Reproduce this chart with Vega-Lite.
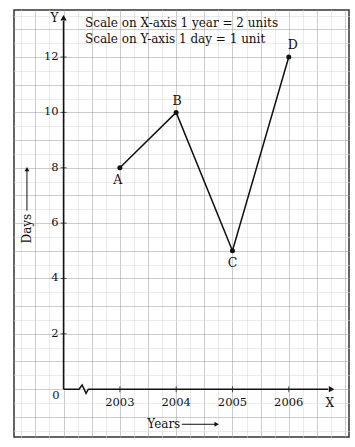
{
  "$schema": "https://vega.github.io/schema/vega-lite/v6.json",
  "autosize": {"type": "none"},
  "padding": {"left": 14, "top": 10, "right": 6, "bottom": 10},
  "width": 335,
  "height": 427,
  "background": "white",
  "config": {
    "view": {"stroke": "#333", "strokeWidth": 1.5},
    "text": {"font": "DejaVu Serif", "fontSize": 11.5, "color": "#111"}
  },
  "datasets": {
    "pts": [
      {"x": 2003, "y": 8, "label": "A"},
      {"x": 2004, "y": 10, "label": "B"},
      {"x": 2005, "y": 5, "label": "C"},
      {"x": 2006, "y": 12, "label": "D"}
    ],
    "xaxis": [
      {"x": 2002, "y": 0, "o": 1},
      {"x": 2002.275, "y": 0, "o": 2},
      {"x": 2002.33, "y": 0.15, "o": 3},
      {"x": 2002.40, "y": -0.15, "o": 4},
      {"x": 2002.44, "y": 0, "o": 5},
      {"x": 2006.7, "y": 0, "o": 6}
    ],
    "ylabels": [
      {"x": 2002, "y": 2, "t": "2"},
      {"x": 2002, "y": 4, "t": "4"},
      {"x": 2002, "y": 6, "t": "6"},
      {"x": 2002, "y": 8, "t": "8"},
      {"x": 2002, "y": 10, "t": "10"},
      {"x": 2002, "y": 12, "t": "12"}
    ],
    "xlabels": [
      {"x": 2003, "y": 0, "t": "2003"},
      {"x": 2004, "y": 0, "t": "2004"},
      {"x": 2005, "y": 0, "t": "2005"},
      {"x": 2006, "y": 0, "t": "2006"}
    ]
  },
  "encoding": {
    "x": {
      "field": "x", "type": "quantitative",
      "scale": {"domain": [2001.12, 2007.07], "nice": false, "zero": false},
      "axis": {
        "title": null, "labels": false, "ticks": false, "domain": false, "grid": true,
        "values": [2001.25, 2001.5, 2001.75, 2002, 2002.25, 2002.5, 2002.75, 2003, 2003.25, 2003.5, 2003.75, 2004, 2004.25, 2004.5, 2004.75, 2005, 2005.25, 2005.5, 2005.75, 2006, 2006.25, 2006.5, 2006.75, 2007],
        "gridDash": [1, 1],
        "gridColor": {"condition": {"test": "abs(datum.value*2 - round(datum.value*2)) < 0.01", "value": "#999999"}, "value": "#d6d6d6"},
        "gridWidth": 1
      }
    },
    "y": {
      "field": "y", "type": "quantitative",
      "scale": {"domain": [-1.73, 13.7], "nice": false, "zero": false},
      "axis": {
        "title": null, "labels": false, "ticks": false, "domain": false, "grid": true,
        "values": [-1.5, -1, -0.5, 0, 0.5, 1, 1.5, 2, 2.5, 3, 3.5, 4, 4.5, 5, 5.5, 6, 6.5, 7, 7.5, 8, 8.5, 9, 9.5, 10, 10.5, 11, 11.5, 12, 12.5, 13, 13.5],
        "gridDash": [1, 1],
        "gridColor": {"condition": {"test": "abs(datum.value - round(datum.value)) < 0.01", "value": "#999999"}, "value": "#d6d6d6"},
        "gridWidth": 1
      }
    }
  },
  "layer": [
    {
      "data": {"values": [{"x": 2002, "y": 0, "y2": 13.3}]},
      "mark": {"type": "rule", "color": "#111", "strokeWidth": 1.5},
      "encoding": {"y2": {"field": "y2"}}
    },
    {
      "data": {"values": [{"x": 2002, "y": 13.42}]},
      "mark": {"type": "point", "shape": "triangle-up", "filled": true, "color": "#111", "size": 40, "opacity": 1}
    },
    {
      "data": {"name": "xaxis"},
      "mark": {"type": "line", "color": "#111", "strokeWidth": 1.5},
      "encoding": {"order": {"field": "o"}}
    },
    {
      "data": {"values": [{"x": 2006.76, "y": 0}]},
      "mark": {"type": "point", "shape": "triangle-right", "filled": true, "color": "#111", "size": 40, "opacity": 1}
    },
    {
      "data": {"name": "ylabels"},
      "mark": {"type": "tick", "orient": "horizontal", "size": 6, "color": "#111", "thickness": 1}
    },
    {
      "data": {"name": "xlabels"},
      "mark": {"type": "tick", "orient": "vertical", "size": 6, "color": "#111", "thickness": 1}
    },
    {
      "data": {"name": "ylabels"},
      "mark": {"type": "text", "align": "right", "baseline": "middle", "dx": -5},
      "encoding": {"text": {"field": "t"}}
    },
    {
      "data": {"name": "xlabels"},
      "mark": {"type": "text", "align": "center", "baseline": "middle", "dy": 14},
      "encoding": {"text": {"field": "t"}}
    },
    {
      "data": {"values": [{"x": 2002, "y": 0, "t": "0"}]},
      "mark": {"type": "text", "align": "right", "baseline": "middle", "dx": -4, "dy": 7},
      "encoding": {"text": {"field": "t"}}
    },
    {
      "data": {"values": [{"x": 2002, "y": 13.42, "t": "Y"}]},
      "mark": {"type": "text", "align": "right", "baseline": "middle", "dx": -5, "dy": 0, "fontSize": 12},
      "encoding": {"text": {"field": "t"}}
    },
    {
      "data": {"values": [{"x": 2006.73, "y": 0, "t": "X"}]},
      "mark": {"type": "text", "align": "center", "baseline": "middle", "dy": 14, "fontSize": 12},
      "encoding": {"text": {"field": "t"}}
    },
    {
      "data": {"name": "pts"},
      "mark": {"type": "line", "color": "#111", "strokeWidth": 1.5}
    },
    {
      "data": {"name": "pts"},
      "mark": {"type": "point", "filled": true, "color": "#111", "size": 25, "opacity": 1}
    },
    {
      "data": {"name": "pts"},
      "transform": [{"filter": "datum.label == 'A'"}],
      "mark": {"type": "text", "align": "center", "baseline": "middle", "dx": -2, "dy": 12, "fontSize": 12.5},
      "encoding": {"text": {"field": "label"}}
    },
    {
      "data": {"name": "pts"},
      "transform": [{"filter": "datum.label == 'B'"}],
      "mark": {"type": "text", "align": "center", "baseline": "middle", "dx": 1, "dy": -11, "fontSize": 12.5},
      "encoding": {"text": {"field": "label"}}
    },
    {
      "data": {"name": "pts"},
      "transform": [{"filter": "datum.label == 'C'"}],
      "mark": {"type": "text", "align": "center", "baseline": "middle", "dx": 0, "dy": 12, "fontSize": 12.5},
      "encoding": {"text": {"field": "label"}}
    },
    {
      "data": {"name": "pts"},
      "transform": [{"filter": "datum.label == 'D'"}],
      "mark": {"type": "text", "align": "center", "baseline": "middle", "dx": 4, "dy": -12, "fontSize": 12.5},
      "encoding": {"text": {"field": "label"}}
    },
    {
      "data": {"values": [
        {"x": 2002.38, "y": 13.23, "t": "Scale on X-axis 1 year = 2 units"},
        {"x": 2002.38, "y": 12.65, "t": "Scale on Y-axis 1 day = 1 unit"}
      ]},
      "mark": {"type": "text", "align": "left", "baseline": "middle", "fontSize": 12},
      "encoding": {"text": {"field": "t"}}
    },
    {
      "data": {"values": [{"x": 2003.78, "y": -1.27, "t": "Years"}]},
      "mark": {"type": "text", "align": "center", "baseline": "middle", "fontSize": 12},
      "encoding": {"text": {"field": "t"}}
    },
    {
      "data": {"values": [{"x": 2004.1, "x2": 2004.7, "y": -1.27}]},
      "mark": {"type": "rule", "color": "#111", "strokeWidth": 1},
      "encoding": {"x2": {"field": "x2"}}
    },
    {
      "data": {"values": [{"x": 2004.72, "y": -1.27}]},
      "mark": {"type": "point", "shape": "triangle-right", "filled": true, "color": "#111", "size": 25, "opacity": 1}
    },
    {
      "data": {"values": [{"x": 2001.35, "y": 5.8, "t": "Days"}]},
      "mark": {"type": "text", "align": "center", "baseline": "middle", "angle": 270, "fontSize": 12},
      "encoding": {"text": {"field": "t"}}
    },
    {
      "data": {"values": [{"x": 2001.35, "y": 6.45, "y2": 7.9}]},
      "mark": {"type": "rule", "color": "#111", "strokeWidth": 1},
      "encoding": {"y2": {"field": "y2"}}
    },
    {
      "data": {"values": [{"x": 2001.35, "y": 7.95}]},
      "mark": {"type": "point", "shape": "triangle-up", "filled": true, "color": "#111", "size": 25, "opacity": 1}
    }
  ]
}
